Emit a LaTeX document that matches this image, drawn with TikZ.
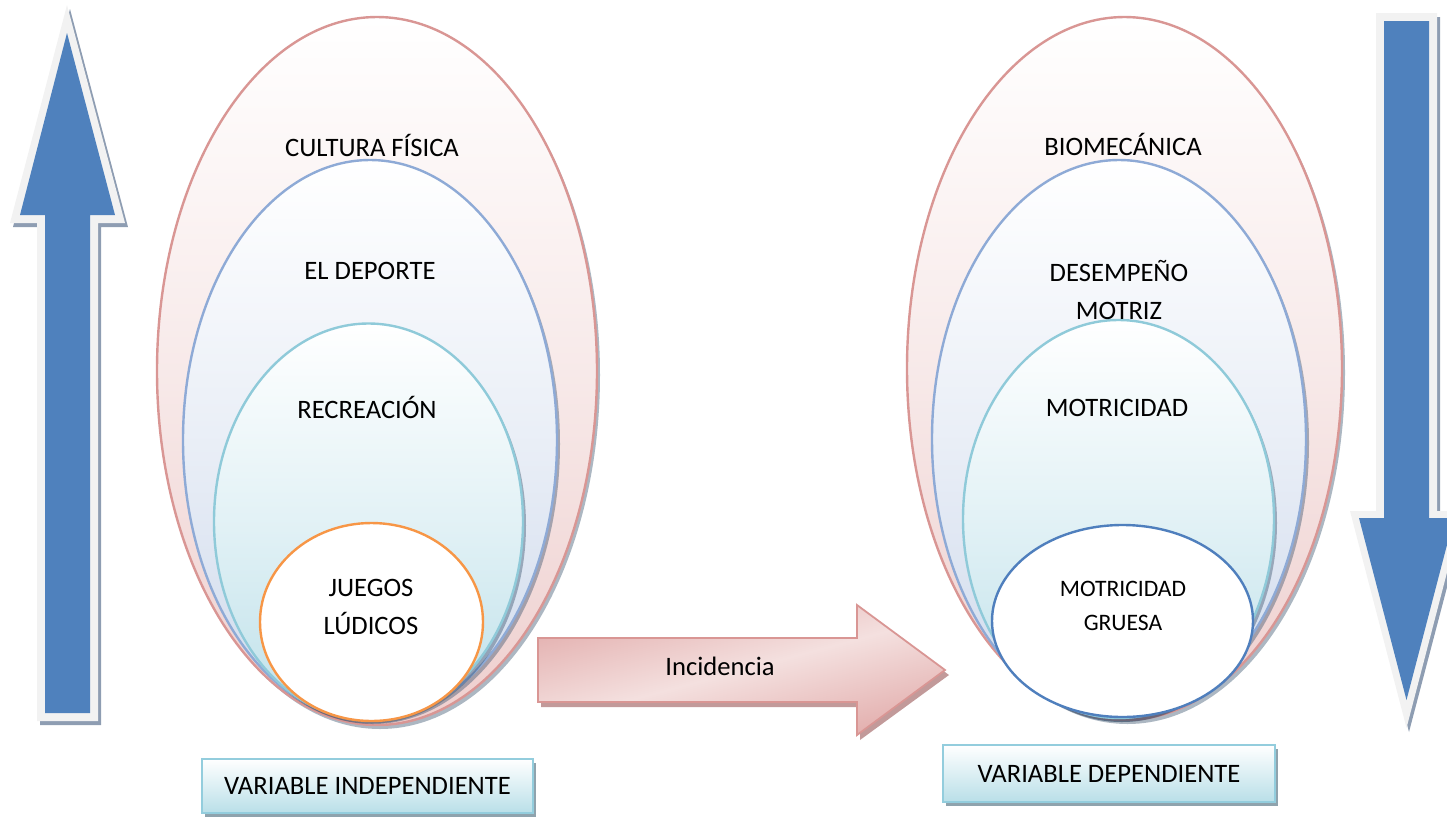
\documentclass[tikz,border=0pt]{standalone}
\usepackage{fontspec}
\setmainfont{Carlito}
\usetikzlibrary{shapes.geometric,shadows}
\definecolor{pinkline}{HTML}{D99694}
\definecolor{pinkfill}{HTML}{EECFCE}
\definecolor{blueline}{HTML}{8EAAD6}
\definecolor{bluefill}{HTML}{CFDAEC}
\definecolor{tealline}{HTML}{8FCAD9}
\definecolor{tealfill}{HTML}{BFE1EA}
\definecolor{orangeline}{HTML}{F79646}
\definecolor{darkblueline}{HTML}{4F7FBD}
\definecolor{arrowblue}{HTML}{4F81BD}
\definecolor{arrowrim}{HTML}{F2F2F2}
\definecolor{arrowshadow}{HTML}{8E9DB2}
\definecolor{incA}{HTML}{E3AFAE}
\definecolor{incB}{HTML}{F4E0DF}
\definecolor{incshadow}{HTML}{C29A9A}
\definecolor{boxline}{HTML}{93CDDD}
\definecolor{boxfill}{HTML}{B9DFE8}
\definecolor{boxshadow}{HTML}{8FA3AD}
\definecolor{ellshadow}{HTML}{2F4A66}
\begin{document}
\begin{tikzpicture}[x=0.5pt,y=-0.5pt,
  ell/.style={ellipse, inner sep=0pt, outer sep=0pt, line width=1.2pt,
    drop shadow={shadow xshift=1.5pt, shadow yshift=-2pt, fill=ellshadow, opacity=0.4}},
  pinkell/.style={ell, draw=pinkline, top color=white, bottom color=pinkfill, middle color=pinkfill!45!white},
  blueell/.style={ell, draw=blueline, top color=white, bottom color=bluefill, middle color=bluefill!45!white},
  tealell/.style={ell, draw=tealline, top color=white, bottom color=tealfill, middle color=tealfill!45!white},
  innerell/.style={ellipse, inner sep=0pt, outer sep=0pt, line width=1.2pt, fill=white},
  lbl/.style={font=\fontsize{13.3}{19}\selectfont, align=center, inner sep=0pt},
  smalllbl/.style={font=\fontsize{11.8}{17}\selectfont, align=center, inner sep=0pt},
  varbox/.style={rectangle, draw=boxline, line width=0.9pt, top color=white, bottom color=boxfill,
    font=\fontsize{13.3}{16}\selectfont, inner sep=0pt,
    drop shadow={shadow xshift=1.5pt, shadow yshift=-2pt, fill=boxshadow, opacity=1}},
]
\useasboundingbox (0,0) rectangle (1447,816);

% ---------- left up arrow ----------
\fill[arrowshadow] (70,9) -- (128,227) -- (101,227) -- (101,725) -- (40,725) -- (40,227) -- (13,227) -- cycle;
\fill[arrowrim] (67,5) -- (125,223) -- (98,223) -- (98,721) -- (37,721) -- (37,223) -- (10,223) -- cycle;
\fill[arrowblue] (67,33) -- (115,215) -- (90,215) -- (90,713) -- (45,713) -- (45,215) -- (20,215) -- cycle;

% ---------- right down arrow ----------
\fill[arrowshadow] (1379,17) -- (1440,17) -- (1440,515) -- (1466,515) -- (1409,732) -- (1353,515) -- (1379,515) -- cycle;
\fill[arrowrim] (1376,13) -- (1437,13) -- (1437,511) -- (1463,511) -- (1406.5,728) -- (1350,511) -- (1376,511) -- cycle;
\fill[arrowblue] (1384,21) -- (1429,21) -- (1429,518) -- (1454,518) -- (1406.5,700) -- (1359,518) -- (1384,518) -- cycle;

% ---------- left ellipses ----------
\node[pinkell, minimum width=220pt, minimum height=354pt] (Lcult) at (377,371) {};
\node[blueell, minimum width=187pt, minimum height=280pt] (Ldep) at (370,440) {};
\node[tealell, minimum width=154.5pt, minimum height=198pt] (Lrec) at (368.5,521.5) {};
\node[innerell, draw=orangeline, minimum width=111.5pt, minimum height=99pt] (Ljue) at (371.5,622) {};

\node[lbl, anchor=base] (tcult) at (372,156.5) {CULTURA FÍSICA};
\node[lbl, anchor=base] (tdep) at (370,279.5) {EL DEPORTE};
\node[lbl, anchor=base] (trec) at (367,418.5) {RECREACIÓN};
\node[lbl] (tjue) at (371,607) {JUEGOS\\LÚDICOS};

% ---------- right ellipses ----------
\node[pinkell, minimum width=217.5pt, minimum height=351.5pt] (Rbio) at (1124.5,368.5) {};
\node[blueell, minimum width=187pt, minimum height=279pt] (Rdes) at (1119,439) {};
\node[tealell, minimum width=155.5pt, minimum height=199pt] (Rmot) at (1118.5,519) {};
\node[innerell, draw=darkblueline, minimum width=130.5pt, minimum height=96pt] (Rgru) at (1122.5,621) {};

\node[lbl, anchor=base] (tbio) at (1123,155.5) {BIOMECÁNICA};
\node[lbl] (tdes) at (1119,289.5) {DESEMPEÑO\\MOTRIZ};
\node[lbl, anchor=base] (tmot) at (1117,416.5) {MOTRICIDAD};
\node[smalllbl] (tgru) at (1123,606) {MOTRICIDAD\\GRUESA};

% ---------- incidence arrow ----------
\fill[incshadow] (541,642) -- (860,642) -- (860,609) -- (949,675) -- (860,740) -- (860,707) -- (541,707) -- cycle;
\shade[top color=incA, bottom color=incA, middle color=incB, shading angle=15]
  (538,638) -- (857,638) -- (857,605) -- (945,670) -- (857,735) -- (857,702) -- (538,702) -- cycle;
\draw[pinkline, line width=0.9pt, line join=miter]
  (538,638) -- (857,638) -- (857,605) -- (945,670) -- (857,735) -- (857,702) -- (538,702) -- cycle;
\node[lbl, anchor=base] (inc) at (720,675.5) {Incidencia};

% ---------- variable boxes ----------
\node[varbox, minimum width=165.5pt, minimum height=27pt] (vind) at (367.5,786) {VARIABLE INDEPENDIENTE};
\node[varbox, minimum width=166pt, minimum height=28.5pt] (vdep) at (1109,773.5) {VARIABLE DEPENDIENTE};
\end{tikzpicture}
\end{document}
